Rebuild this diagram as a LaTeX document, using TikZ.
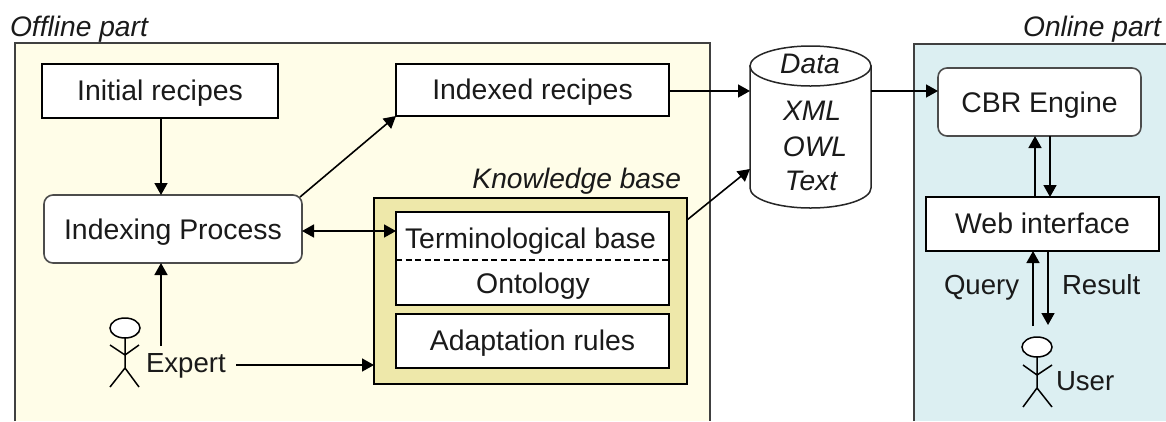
\documentclass[tikz,border=0pt]{standalone}
\usepackage{fontspec}
\setmainfont{Liberation Sans}
\usetikzlibrary{arrows.meta,calc,shapes.geometric}
\definecolor{offbg}{HTML}{FFFDE8}
\definecolor{onbg}{HTML}{DCEFF2}
\definecolor{kbbg}{HTML}{EEE8AA}
\definecolor{ink}{HTML}{1A1A1A}
\tikzset{
  x=1pt,y=-1pt,
  every node/.style={font=\fontsize{28.4}{30}\selectfont,text=ink,inner sep=0pt,outer sep=0pt},
  box/.style={draw=black,line width=1.5pt,fill=white,minimum width=#1,text height=20pt,text depth=1pt},
  box/.default=273,
  rbox/.style={draw=black!70,line width=1.6pt,fill=white,rounded corners=9pt,text height=20pt,text depth=0pt},
  lab/.style={font=\fontsize{28.2}{30}\selectfont\itshape},
  small/.style={font=\fontsize{27.6}{30}\selectfont},
  arr/.style={line width=1.6pt,-{Triangle[length=12pt,width=13pt]}},
  darr/.style={line width=1.6pt,{Triangle[length=12pt,width=13pt]}-{Triangle[length=12pt,width=13pt]}},
  panelline/.style={line width=1.5pt,draw=black!75},
  stick/.style={line width=1.5pt,draw=black},
  headshape/.style={draw=black,line width=1.5pt,fill=white,ellipse,minimum width=30,minimum height=20},
}
\begin{document}
\begin{tikzpicture}
\useasboundingbox (0,0) rectangle (1166,421);
% panels
\node[fill=offbg,minimum width=695,minimum height=378,anchor=north west] (offp) at (15,43) {};
\node[fill=onbg,minimum width=252,minimum height=377,anchor=north west] (onp) at (914,44) {};
\draw[panelline] (offp.south west) -- (offp.north west) -- (offp.north east) -- (offp.south east);
\draw[panelline] (onp.south west) -- (onp.north west) -- (onp.north east);
\node[lab,anchor=base west] (offl) at (10,36) {Offline part};
\node[lab,anchor=base east] (onl) at (1161,36.5) {Online part};
% knowledge base
\node[lab,anchor=base east] (kbl) at (681,188) {Knowledge base};
\node[draw=black,line width=1.5pt,fill=kbbg,minimum width=313,minimum height=186,anchor=north west] (kb) at (374,198) {};
\node[box,minimum height=93,anchor=north west] (term) at (396,212) {};
\node[anchor=base] (termt) at (530.5,248) {Terminological base};
\node[anchor=base] (onto) at (533,293) {Ontology};
\draw[dashed,line width=1.2pt,dash pattern=on 6pt off 3.5pt] (term.west |- 0,260) coordinate (dl) -- (term.east |- 0,260) coordinate (dr);
\node[box,minimum height=54,anchor=north west] (adapt) at (396,314) {Adaptation rules};
% boxes
\node[box=236,minimum height=54,anchor=north west] (init) at (42,64) {Initial recipes};
\node[box,minimum height=52,anchor=north west] (indexed) at (396,64) {Indexed recipes};
\node[rbox,minimum width=258,minimum height=68,anchor=north west] (proc) at (44,195) {Indexing Process};
\node[rbox,minimum width=203,minimum height=68,anchor=north west] (cbr) at (938,68) {CBR Engine};
\node[box=233,minimum height=54,anchor=north west] (web) at (926,197) {Web interface};
% data cylinder
\node[minimum width=121,minimum height=122,anchor=north west] (cyl) at (750,66) {};
\draw[black!85,line width=1.5pt,fill=white] (cyl.north west) -- (cyl.south west) arc[start angle=180,end angle=360,x radius=60.5pt,y radius=20pt] -- (cyl.north east) -- cycle;
\node[draw=black!85,line width=1.5pt,fill=white,ellipse,minimum width=121,minimum height=40] (ctop) at (cyl.north) {};
\node[lab,anchor=base] (data) at (810,73) {Data};
\node[lab,anchor=base] (xml) at (812,120.5) {XML};
\node[lab,anchor=base] (owl) at (815,156.5) {OWL};
\node[lab,anchor=base] (text) at (811,190.5) {Text};
% expert
\node[headshape] (ehead) at (125,328) {};
\coordinate (ehip) at (125,368);
\draw[stick] (ehead.south) -- (ehip) -- (110,387) (ehip) -- (139,387) (110,345) -- (125,355) -- (139,345);
\node[small,anchor=base west] (expert) at (146,372) {Expert};
% user
\node[headshape] (uhead) at (1037,347) {};
\coordinate (uhip) at (1037,388);
\draw[stick] (uhead.south) -- (uhip) -- (1023,407) (uhip) -- (1052,407) (1023,365) -- (1037,375) -- (1052,365);
\node[small,anchor=base west] (user) at (1056,390) {User};
\node[small,anchor=base west] (query) at (944,294) {Query};
\node[small,anchor=base west] (result) at (1062,294) {Result};
% connectors
\draw[arr] (init.south -| 161,0) -- (proc.north -| 161,0);
\coordinate (p1) at ($(proc.north east)+(-2,2)$);
\draw[arr] (p1) -- (indexed.south west);
\draw[darr] (proc.east |- 0,231) -- (term.west |- 0,231);
\coordinate (e1) at (161,346);
\draw[arr] (e1) -- (proc.south -| e1);
\coordinate (e2) at (236,365);
\draw[arr] (e2) -- (kb.west |- e2);
\draw[arr] (indexed.east |- 0,91) -- (cyl.west |- 0,91);
\coordinate (k1) at (kb.east |- 0,220);
\coordinate (c1) at (cyl.west |- 0,169);
\draw[arr] (k1) -- (c1);
\draw[arr] (cyl.east |- 0,91) -- (cbr.west |- 0,91);
\draw[arr] (web.north -| 1035,0) -- (cbr.south -| 1035,0);
\draw[arr] (cbr.south -| 1050,0) -- (web.north -| 1050,0);
\coordinate (u1) at (1033,326);
\coordinate (u2) at (1048,325);
\draw[arr] (u1) -- (web.south -| u1);
\draw[arr] (web.south -| u2) -- (u2);
\end{tikzpicture}
\end{document}
